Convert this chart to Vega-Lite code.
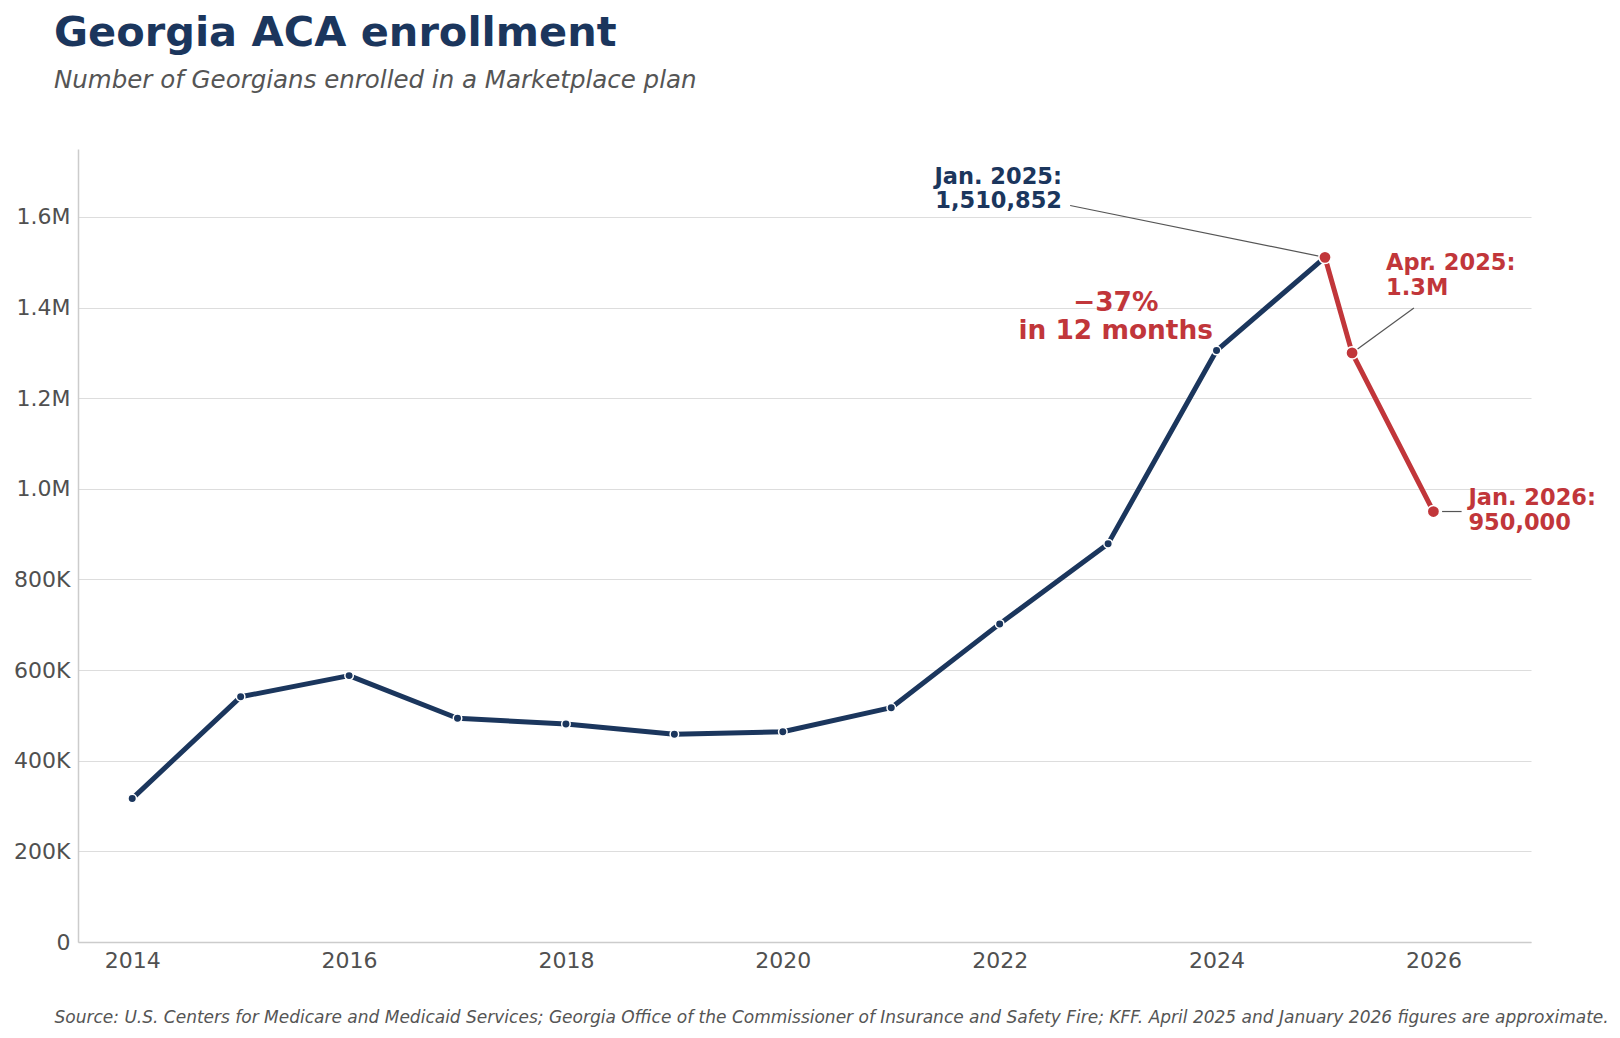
{
  "$schema": "https://vega.github.io/schema/vega-lite/v6.json",
  "description": "Georgia ACA Marketplace enrollment, 2014 to 2026",
  "width": 1453,
  "height": 793,
  "autosize": {"type": "none"},
  "padding": {"left": 78, "top": 149, "right": 89, "bottom": 96},
  "background": "white",
  "config": {"view": {"stroke": null}},
  "title": {
    "text": "Georgia ACA enrollment",
    "subtitle": "Number of Georgians enrolled in a Marketplace plan",
    "anchor": "start",
    "frame": "group",
    "dx": -24,
    "offset": 57,
    "font": "DejaVu Sans",
    "fontSize": 41.5,
    "fontWeight": "bold",
    "color": "#1b365d",
    "subtitleFont": "DejaVu Sans",
    "subtitleFontSize": 24.5,
    "subtitleFontStyle": "italic",
    "subtitleColor": "#555555",
    "subtitlePadding": 14
  },
  "datasets": {
    "enrollment": [
      {"year": 2014, "enrollment": 316543, "series": "before"},
      {"year": 2015, "enrollment": 541080, "series": "before"},
      {"year": 2016, "enrollment": 587845, "series": "before"},
      {"year": 2017, "enrollment": 493880, "series": "before"},
      {"year": 2018, "enrollment": 480889, "series": "before"},
      {"year": 2019, "enrollment": 458437, "series": "before"},
      {"year": 2020, "enrollment": 463910, "series": "before"},
      {"year": 2021, "enrollment": 517113, "series": "before"},
      {"year": 2022, "enrollment": 702000, "series": "before"},
      {"year": 2023, "enrollment": 879084, "series": "before"},
      {"year": 2024, "enrollment": 1305114, "series": "before"},
      {"year": 2025, "enrollment": 1510852, "series": "before"},
      {"year": 2025, "enrollment": 1510852, "series": "after"},
      {"year": 2025.25, "enrollment": 1300000, "series": "after"},
      {"year": 2026, "enrollment": 950000, "series": "after"}
    ],
    "connectors": [
      {"year": 2022.65, "enrollment": 1625300, "year2": 2025, "enrollment2": 1510852},
      {"year": 2025.25, "enrollment": 1300000, "year2": 2025.82, "enrollment2": 1399100},
      {"year": 2026.08, "enrollment": 950000, "year2": 2026.26, "enrollment2": 950000}
    ],
    "notes": [
      {"key": "jan25", "year": 2025, "enrollment": 1510852, "label": ["Jan. 2025:", "1,510,852"]},
      {"key": "apr25", "year": 2025.25, "enrollment": 1300000, "label": ["Apr. 2025:", "1.3M"]},
      {"key": "jan26", "year": 2026, "enrollment": 950000, "label": ["Jan. 2026:", "950,000"]},
      {"key": "drop", "year": 2023.07, "enrollment": 1392500, "label": ["−37%", "in 12 months"]}
    ]
  },
  "encoding": {
    "x": {
      "field": "year",
      "type": "quantitative",
      "scale": {"domain": [2013.5, 2026.9], "nice": false, "zero": false},
      "axis": {
        "values": [2014, 2016, 2018, 2020, 2022, 2024, 2026],
        "format": "d",
        "grid": false,
        "ticks": false,
        "labelPadding": 8,
        "labelFlush": false,
        "labelFont": "DejaVu Sans",
        "labelFontSize": 22,
        "labelColor": "#505050",
        "domainColor": "#cccccc",
        "domainWidth": 1.5,
        "title": "Source: U.S. Centers for Medicare and Medicaid Services; Georgia Office of the Commissioner of Insurance and Safety Fire; KFF. April 2025 and January 2026 figures are approximate.",
        "titleFont": "DejaVu Sans",
        "titleFontSize": 17,
        "titleFontStyle": "italic",
        "titleFontWeight": "normal",
        "titleColor": "#555555",
        "titleAnchor": "start",
        "titleAlign": "left",
        "titleBaseline": "alphabetic",
        "titleX": -24,
        "titleY": 80
      }
    },
    "y": {
      "field": "enrollment",
      "type": "quantitative",
      "scale": {"domain": [0, 1750000], "nice": false},
      "axis": {
        "values": [0, 200000, 400000, 600000, 800000, 1000000, 1200000, 1400000, 1600000],
        "labelExpr": "datum.value == 0 ? '0' : datum.value >= 1000000 ? format(datum.value / 1000000, '.1f') + 'M' : format(datum.value / 1000, 'd') + 'K'",
        "title": null,
        "grid": true,
        "gridColor": "#dddddd",
        "gridWidth": 1.2,
        "ticks": false,
        "labelPadding": 8,
        "labelFont": "DejaVu Sans",
        "labelFontSize": 22,
        "labelColor": "#505050",
        "domainColor": "#cccccc",
        "domainWidth": 1.5
      }
    }
  },
  "layer": [
    {
      "data": {"name": "connectors"},
      "mark": {"type": "rule", "color": "#555555", "strokeWidth": 1.2},
      "encoding": {
        "x2": {"field": "year2"},
        "y2": {"field": "enrollment2"}
      }
    },
    {
      "data": {"name": "enrollment"},
      "mark": {"type": "line", "strokeWidth": 5, "strokeCap": "round", "strokeJoin": "round"},
      "encoding": {
        "color": {
          "field": "series",
          "type": "nominal",
          "scale": {"domain": ["before", "after"], "range": ["#1b365d", "#c1363a"]},
          "legend": null
        },
        "strokeWidth": {
          "field": "series",
          "type": "nominal",
          "scale": {"domain": ["before", "after"], "range": [5, 5.5]},
          "legend": null
        }
      }
    },
    {
      "data": {"name": "enrollment"},
      "transform": [{"filter": "datum.series == 'before' && datum.year < 2025"}],
      "mark": {"type": "circle", "size": 72, "color": "#1b365d", "opacity": 1, "stroke": "white", "strokeWidth": 1.5}
    },
    {
      "data": {"name": "enrollment"},
      "transform": [{"filter": "datum.series == 'after'"}],
      "mark": {"type": "circle", "size": 150, "color": "#c1363a", "opacity": 1, "stroke": "white", "strokeWidth": 1.5}
    },
    {
      "data": {"name": "notes"},
      "transform": [{"filter": "datum.key == 'jan25'"}],
      "mark": {"type": "text", "align": "right", "baseline": "alphabetic", "dx": -263, "dy": -73, "font": "DejaVu Sans", "fontSize": 22.5, "fontWeight": "bold", "lineHeight": 24, "color": "#1b365d"},
      "encoding": {"text": {"field": "label"}}
    },
    {
      "data": {"name": "notes"},
      "transform": [{"filter": "datum.key == 'apr25'"}],
      "mark": {"type": "text", "align": "left", "baseline": "alphabetic", "dx": 34, "dy": -83, "font": "DejaVu Sans", "fontSize": 22.5, "fontWeight": "bold", "lineHeight": 25, "color": "#c1363a"},
      "encoding": {"text": {"field": "label"}}
    },
    {
      "data": {"name": "notes"},
      "transform": [{"filter": "datum.key == 'jan26'"}],
      "mark": {"type": "text", "align": "left", "baseline": "alphabetic", "dx": 35, "dy": -7, "font": "DejaVu Sans", "fontSize": 22.5, "fontWeight": "bold", "lineHeight": 25, "color": "#c1363a"},
      "encoding": {"text": {"field": "label"}}
    },
    {
      "data": {"name": "notes"},
      "transform": [{"filter": "datum.key == 'drop'"}],
      "mark": {"type": "text", "align": "center", "baseline": "alphabetic", "font": "DejaVu Sans", "fontSize": 26.4, "fontWeight": "bold", "lineHeight": 28, "color": "#c1363a"},
      "encoding": {"text": {"field": "label"}}
    }
  ]
}
